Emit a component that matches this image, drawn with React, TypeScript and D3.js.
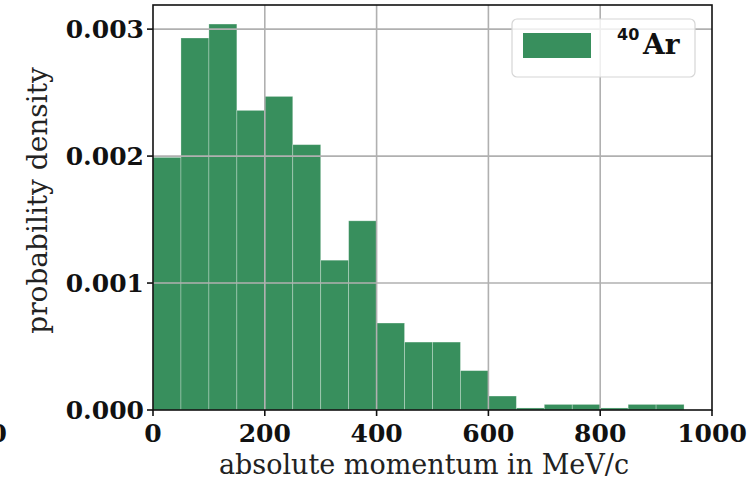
import React from "react";
import * as d3 from "d3";

// histogram bins (left edges, MeV/c) and density values
const binEdges = [0, 50, 100, 150, 200, 250, 300, 350, 400, 450, 500, 550, 600, 650, 700, 750, 800, 850, 900];
const density = [
  0.00199, 0.00293, 0.00304, 0.00236, 0.00247, 0.00209, 0.00118, 0.00149, 0.000685,
  0.000535, 0.000535, 0.00031, 0.00011, 0.000016, 0.000044, 0.000044, 0.000016, 0.000044, 0.000044,
];
const binWidth = 50;
const xTicks = [0, 200, 400, 600, 800, 1000];
const yTicks = [0, 0.001, 0.002, 0.003];

const W = 755;
const H = 480;
const margin = { top: 5, right: 43, bottom: 70, left: 153 };
const GREEN = "#388f5d";
const SERIF = "'DejaVu Serif', serif";

const App = () => {
  const x = d3.scaleLinear().domain([0, 1000]).range([margin.left, W - margin.right]);
  const y = d3.scaleLinear().domain([0, 0.00319]).range([H - margin.bottom, margin.top]);
  const [y0, y1] = y.range();
  const [x0, x1] = x.range();

  return (
    <svg width={W} height={H} style={{ position: "absolute", left: 0, top: 0, background: "#fff" }}>
      {/* bars */}
      {binEdges.map((e, i) => (
        <rect
          key={e}
          x={x(e)}
          y={y(density[i])}
          width={x(e + binWidth) - x(e)}
          height={y0 - y(density[i])}
          fill={GREEN}
          stroke="#fff"
          strokeOpacity={0.35}
          strokeWidth={0.8}
        />
      ))}

      {/* grid, drawn on top of the bars */}
      {xTicks.slice(1, -1).map((t) => (
        <line key={"gx" + t} x1={x(t)} x2={x(t)} y1={y1} y2={y0} stroke="#b0b0b0" strokeWidth={1.6} />
      ))}
      {yTicks.slice(1).map((t) => (
        <line key={"gy" + t} x1={x0} x2={x1} y1={y(t)} y2={y(t)} stroke="#b0b0b0" strokeWidth={1.6} />
      ))}

      {/* frame */}
      <rect x={x0} y={y1} width={x1 - x0} height={y0 - y1} fill="none" stroke="#111" strokeWidth={1.6} />

      {/* x ticks */}
      {xTicks.map((t) => (
        <g key={"xt" + t}>
          <line x1={x(t)} x2={x(t)} y1={y0} y2={y0 + 6} stroke="#111" strokeWidth={1.6} />
          <text x={x(t)} y={y0 + 32} textAnchor="middle" fontFamily={SERIF} fontWeight="bold" fontSize={25} fill="#111">
            {t}
          </text>
        </g>
      ))}
      {/* clipped label of a neighbouring panel */}
      <text x={7} y={y0 + 32} textAnchor="end" fontFamily={SERIF} fontWeight="bold" fontSize={25} fill="#111">
        1000
      </text>

      {/* y ticks */}
      {yTicks.map((t) => (
        <g key={"yt" + t}>
          <line x1={x0 - 6} x2={x0} y1={y(t)} y2={y(t)} stroke="#111" strokeWidth={1.6} />
          <text x={x0 - 9} y={y(t) + 9} textAnchor="end" fontFamily={SERIF} fontWeight="bold" fontSize={25} fill="#111">
            {d3.format(".3f")(t)}
          </text>
        </g>
      ))}

      {/* axis labels */}
      <text x={424} y={H - 6} textAnchor="middle" fontFamily={SERIF} fontSize={27} fill="#222">
        absolute momentum in MeV/c
      </text>
      <text
        transform={`translate(47,${(y0 + y1) / 2 - 7}) rotate(-90)`}
        textAnchor="middle"
        fontFamily={SERIF}
        fontSize={28}
        fill="#222"
      >
        probability density
      </text>

      {/* legend */}
      <g>
        <rect x={512} y={19} width={183} height={58} rx={5} fill="#fff" fillOpacity={0.8} stroke="#d6d6d6" strokeWidth={1.2} />
        <rect x={523} y={33} width={68} height={25} fill={GREEN} />
        <text x={617} y={40} fontFamily="'DejaVu Sans', sans-serif" fontWeight="bold" fontSize={16} fill="#111">
          40
        </text>
        <text x={643} y={54} fontFamily={SERIF} fontWeight="bold" fontSize={28} fill="#111">
          Ar
        </text>
      </g>
    </svg>
  );
};

export default App;
